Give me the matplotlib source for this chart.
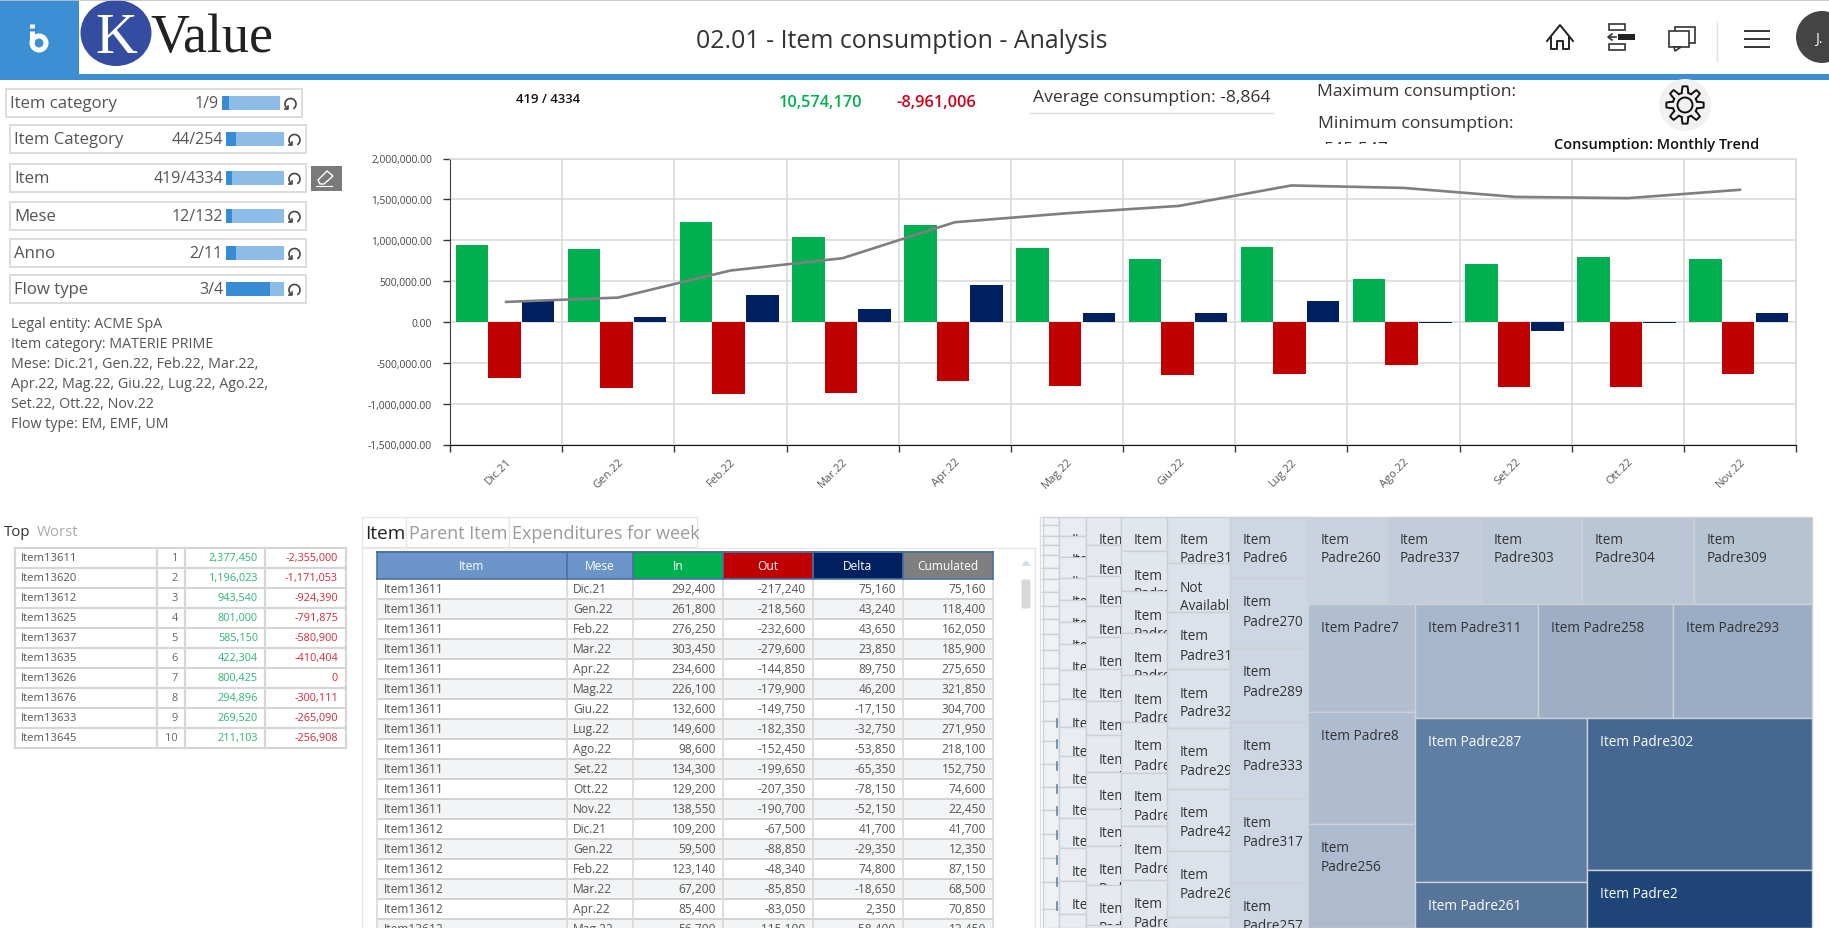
import numpy as np
import matplotlib

matplotlib.use("Agg")
import matplotlib.pyplot as plt
from matplotlib.patches import Arc, Circle, Ellipse, FancyBboxPatch, Polygon, Rectangle
from matplotlib.transforms import ScaledTranslation

W, H = 1829, 929
FONT = "Open Sans"
BLUE = "#3d8fd3"

# chart
MONTHS = ["Dic.21", "Gen.22", "Feb.22", "Mar.22", "Apr.22", "Mag.22", "Giu.22", "Lug.22", "Ago.22", "Set.22", "Ott.22", "Nov.22"]
IN_VALUES = [940000, 890000, 1229000, 1045000, 1184000, 906000, 767000, 918000, 522000, 706000, 796000, 767000]
OUT_VALUES = [-682000, -804000, -878000, -865000, -727000, -788000, -653000, -641000, -531000, -792000, -792000, -641000]
DELTA_VALUES = [257000, 65000, 327000, 159000, 449000, 114000, 110000, 261000, -8000, -106000, -8000, 110000]
CUMULATED = [245000, 298000, 629000, 780000, 1220000, 1330000, 1420000, 1670000, 1640000, 1530000, 1515000, 1617000]
Y_TICKS = [-1500000, -1000000, -500000, 0, 500000, 1000000, 1500000, 2000000]

# filters
FILTER_NAMES = ["Item category", "Item Category", "Item", "Mese", "Anno", "Flow type"]
FILTER_COUNTS = ["1/9", "44/254", "419/4334", "12/132", "2/11", "3/4"]
FILTER_SHARE = [0.12, 0.18, 0.10, 0.10, 0.18, 0.75]
FILTER_TOPS = [90, 126, 165, 203, 240, 276]
FILTER_TEXT = [
    "Legal entity: ACME SpA",
    "Item category: MATERIE PRIME",
    "Mese: Dic.21, Gen.22, Feb.22, Mar.22,",
    "Apr.22, Mag.22, Giu.22, Lug.22, Ago.22,",
    "Set.22, Ott.22, Nov.22",
    "Flow type: EM, EMF, UM",
]

# top table
TOP_ITEMS = ["Item13611", "Item13620", "Item13612", "Item13625", "Item13637", "Item13635", "Item13626", "Item13676", "Item13633", "Item13645"]
TOP_IN = ["2,377,450", "1,196,023", "943,540", "801,000", "585,150", "422,304", "800,425", "294,896", "269,520", "211,103"]
TOP_OUT = ["-2,355,000", "-1,171,053", "-924,390", "-791,875", "-580,900", "-410,404", "0", "-300,111", "-265,090", "-256,908"]

# detail table
TABLE_HEAD = ["Item", "Mese", "In", "Out", "Delta", "Cumulated"]
TABLE_HEAD_COLORS = ["#6b95c9", "#6b95c9", "#00b050", "#c00000", "#002060", "#7f7f7f"]
TABLE_COLS = [377, 567, 633, 723, 813, 903, 993]
ROW_ITEMS = ["Item13611"] * 12 + ["Item13612"] * 6
ROW_MESE = MONTHS + MONTHS[:6]
ROW_IN = ["292,400", "261,800", "276,250", "303,450", "234,600", "226,100", "132,600", "149,600", "98,600", "134,300", "129,200", "138,550", "109,200", "59,500", "123,140", "67,200", "85,400", "56,700"]
ROW_OUT = ["-217,240", "-218,560", "-232,600", "-279,600", "-144,850", "-179,900", "-149,750", "-182,350", "-152,450", "-199,650", "-207,350", "-190,700", "-67,500", "-88,850", "-48,340", "-85,850", "-83,050", "-115,100"]
ROW_DELTA = ["75,160", "43,240", "43,650", "23,850", "89,750", "46,200", "-17,150", "-32,750", "-53,850", "-65,350", "-78,150", "-52,150", "41,700", "-29,350", "74,800", "-18,650", "2,350", "-58,400"]
ROW_CUM = ["75,160", "118,400", "162,050", "185,900", "275,650", "321,850", "304,700", "271,950", "218,100", "152,750", "74,600", "22,450", "41,700", "12,350", "87,150", "68,500", "70,850", "12,450"]

# treemap columns on the left, from small to large
TREE_COLUMNS = [
    (1043, 1059, "#eef1f5", [518, 526, 537, 546, 556, 569, 580, 593, 607, 620, 635, 651, 669, 685, 702, 722, 742, 765, 788, 811, 835, 859, 883, 910], []),
    (1059, 1086, "#e9edf2", [518, 537, 558, 579, 601, 623, 645, 671, 700, 728, 757, 788, 819, 849, 882, 915], ["Item"] * 16),
    (1086, 1121, "#e6eaf0", [518, 546, 577, 607, 638, 670, 702, 736, 773, 810, 847, 886, 926], ["Item\nPadre"] * 13),
    (1121, 1167, "#e2e7ee", [518, 552, 592, 634, 676, 723, 774, 827, 881], ["Item\nPadre"] * 9),
    (1167, 1230, "#dce2ea", [518, 564, 613, 670, 729, 790, 852, 918],
     ["Item\nPadre31", "Not\nAvailable", "Item\nPadre31", "Item\nPadre32", "Item\nPadre29", "Item\nPadre42", "Item\nPadre26", "Item\nPadre"]),
    (1230, 1308, "#cdd6e2", [518, 579, 649, 723, 800, 884],
     ["Item\nPadre6", "Item\nPadre270", "Item\nPadre289", "Item\nPadre333", "Item\nPadre317", "Item\nPadre257"]),
]
TREE_SLIVERS = [720, 741, 763, 786, 808, 832, 857, 879, 903]
# x0, y0, x1, y1, colour, label, text colour
TREE_CELLS = [
    (1308, 518, 1387, 605, "#c9d2de", "Item\nPadre260", "#333333"),
    (1387, 518, 1481, 605, "#c2ccda", "Item\nPadre337", "#333333"),
    (1481, 518, 1582, 605, "#bfcad8", "Item\nPadre303", "#333333"),
    (1582, 518, 1694, 605, "#bac6d6", "Item\nPadre304", "#333333"),
    (1694, 518, 1812, 605, "#b6c3d3", "Item\nPadre309", "#333333"),
    (1308, 605, 1415, 713, "#b1bed0", "Item Padre7", "#333333"),
    (1308, 713, 1415, 825, "#afbccf", "Item Padre8", "#333333"),
    (1308, 825, 1415, 929, "#aebbce", "Item\nPadre256", "#333333"),
    (1415, 605, 1538, 719, "#a6b6cb", "Item Padre311", "#333333"),
    (1538, 605, 1673, 719, "#9eafc5", "Item Padre258", "#333333"),
    (1673, 605, 1812, 719, "#9badc4", "Item Padre293", "#333333"),
    (1415, 719, 1587, 883, "#5f7ea3", "Item Padre287", "white"),
    (1415, 883, 1587, 929, "#567599", "Item Padre261", "white"),
    (1587, 719, 1812, 871, "#456792", "Item Padre302", "white"),
    (1587, 871, 1812, 929, "#1f4578", "Item Padre2", "white"),
]


def fs(px):
    return px * 0.72


def label(ax, x, y, s, size=12, color="#444444", ha="left", **kwargs):
    kwargs.setdefault("family", FONT)
    return ax.text(x, y, s, fontsize=fs(size), color=color, ha=ha, va="center", **kwargs)


def box(ax, x0, y0, x1, y1, face="white", edge="none", lw=1.0, zorder=1):
    patch = Rectangle((x0, y0), x1 - x0, y1 - y0, facecolor=face, edgecolor=edge, linewidth=lw, zorder=zorder)
    ax.add_patch(patch)
    return patch


def draw_header(ax):
    ax.plot([0, W], [0.5, 0.5], color="#c4c4c4", lw=1.2)
    box(ax, 0, 75, W, 81, face=BLUE)
    box(ax, 0, 1, 79, 81, face=BLUE)
    # small b logo
    ax.add_patch(Circle((39, 44), 7, facecolor="none", edgecolor="white", lw=3.6))
    ax.plot([32, 32], [32, 44], color="white", lw=3.6, solid_capstyle="butt")
    ax.plot([32, 32], [25, 29], color="white", lw=3.6, solid_capstyle="butt")
    ax.add_patch(Ellipse((116, 34), 71, 66, facecolor="#354da0", edgecolor="none"))
    ax.text(116, 39, "K", family="Liberation Serif", fontsize=fs(58), color="white", ha="center", va="center")
    ax.text(150, 39, "Value", family="Liberation Serif", fontsize=fs(54), color="#222222", ha="left", va="center")
    label(ax, 902, 41, "02.01 - Item consumption - Analysis", size=24.9, color="#333333", ha="center")

    # home
    ax.plot([1547, 1560, 1573], [42, 26, 42], color="#222222", lw=1.4)
    ax.plot([1551, 1551, 1557, 1557, 1563, 1563, 1569, 1569], [38, 50, 50, 42, 42, 50, 50, 38], color="#222222", lw=1.4)
    # tree
    box(ax, 1609, 25, 1625, 31, edge="#333333", lw=1.2)
    box(ax, 1609, 45, 1625, 51, edge="#333333", lw=1.2)
    box(ax, 1618, 35, 1635, 41, face="#222222")
    ax.plot([1609, 1616], [38, 38], color="#333333", lw=1.2)
    ax.plot([1612, 1608, 1612], [35, 38, 41], color="#333333", lw=1.2)
    # chat
    box(ax, 1675, 28, 1695, 44, face="none", edge="#333333", lw=1.2)
    box(ax, 1669, 32, 1689, 48, edge="#333333", lw=1.2)
    ax.add_patch(Polygon([[1674, 48], [1675, 52], [1681, 48]], facecolor="white", edgecolor="#333333", lw=1.2, zorder=2))
    ax.plot([1717, 1717], [23, 62], color="#e0e0e0", lw=1)
    for y in [32, 40, 48]:
        ax.plot([1745, 1769], [y, y], color="#333333", lw=1.4)
    ax.add_patch(Circle((1822, 38), 26, facecolor="#444444", edgecolor="none"))
    label(ax, 1819, 39, "J.", size=14, color="white", ha="center")


def draw_filters(ax):
    for i, (name, count, share, top) in enumerate(zip(FILTER_NAMES, FILTER_COUNTS, FILTER_SHARE, FILTER_TOPS)):
        off = 0 if i == 0 else 4
        box(ax, 6 + off, top, 302 + off, top + 28, edge="#dcdcdc", lw=1.4)
        label(ax, 10 + off, top + 14, name, size=16.8, color="#555555")
        label(ax, 219 + off, top + 14, count, size=16, color="#555555", ha="right")
        x0, x1 = 222 + off, 280 + off
        box(ax, x0, top + 7, x1, top + 21, face="#8dbde6")
        box(ax, x0, top + 7, x0 + (x1 - x0) * share, top + 21, face="#378cd4")
        # reset icon
        cx, cy = x1 + 10.5, top + 15
        ax.add_patch(Arc((cx, cy), 11, 11, theta1=125, theta2=60, color="#444444", lw=1.2))
        ax.plot([cx - 6, cx - 3, cx - 3], [cy + 5, cy + 5, cy + 2], color="#444444", lw=1.2)
    box(ax, 311, 167, 342, 192, face="#7a7a7a")
    ax.add_patch(Polygon([[318, 181], [327, 172], [333, 177], [324, 185], [320, 185]], facecolor="none", edgecolor="white", lw=1))
    ax.plot([316, 332], [187, 187], color="white", lw=0.8)
    for i, line in enumerate(FILTER_TEXT):
        label(ax, 11, 324 + 20 * i, line, size=14.3, color="#555555")


def draw_stats(ax):
    label(ax, 548, 99, "419 / 4334", size=13, color="#111111", ha="center", fontweight="semibold")
    label(ax, 820, 103, "10,574,170", size=16.4, color="#00b050", ha="center", fontweight="semibold")
    label(ax, 936, 103, "-8,961,006", size=16.4, color="#d0021b", ha="center", fontweight="semibold")
    label(ax, 1033, 98, "Average consumption: -8,864", size=17.5, color="#333333")
    ax.plot([1030, 1273], [114, 114], color="#dddddd", lw=1)
    label(ax, 1317, 92, "Maximum consumption:", size=17.5, color="#333333")
    label(ax, 1318, 124, "Minimum consumption:", size=17.5, color="#333333")
    t = label(ax, 1324, 150, "545,547", size=17.5, color="#333333", clip_on=True)
    t.set_clip_path(box(ax, 1300, 125, 1500, 145, face="none"))
    ax.add_patch(Ellipse((1685, 106), 52, 52, facecolor="#f1f1f1", edgecolor="none"))
    # gear icon
    ang = np.linspace(0, 2 * np.pi, 97)
    rad = 15.5 + 3.2 * np.clip(3 * np.cos(8 * ang), -1, 1)
    ax.add_patch(Polygon(np.c_[1685 + rad * np.cos(ang), 106 + rad * np.sin(ang)], facecolor="none", edgecolor="#111111", lw=1.4, closed=True))
    ax.add_patch(Circle((1685, 106), 7.5, facecolor="none", edgecolor="#111111", lw=1.4))
    label(ax, 1657, 145, "Consumption: Monthly Trend", size=14.5, color="#111111", ha="center", fontweight="semibold")


def draw_chart(fig):
    ax = fig.add_axes([450 / W, 1 - 445.5 / H, 1346 / W, 286 / H])
    x = np.arange(len(MONTHS))
    width = 0.29
    ax.bar(x - 0.305, IN_VALUES, width, color="#00b050", zorder=2)
    ax.bar(x - 0.015, OUT_VALUES, width, color="#c00000", zorder=2)
    ax.bar(x + 0.285, DELTA_VALUES, width, color="#002060", zorder=2)
    ax.plot(x, CUMULATED, color="#7f7f7f", lw=1.9, zorder=3)
    ax.set_xlim(-0.5, len(MONTHS) - 0.5)
    ax.set_ylim(-1500000, 2000000)
    ax.set_yticks(Y_TICKS)
    ax.set_yticklabels([f"{v:,.2f}" for v in Y_TICKS], family=FONT, fontsize=fs(10.3), color="#444444")
    ax.set_xticks(np.arange(len(MONTHS) + 1) - 0.5)
    ax.set_xticklabels([])
    ax.set_xticks(x, minor=True)
    ax.set_xticklabels(MONTHS, minor=True, rotation=45, ha="right", va="top", rotation_mode="anchor",
                       family=FONT, fontsize=fs(11.2), color="#595959")
    shift = ScaledTranslation(-3 / 100, 0, fig.dpi_scale_trans)
    for tick_label in ax.get_xticklabels(minor=True):
        tick_label.set_transform(tick_label.get_transform() + shift)
    ax.tick_params(axis="x", which="minor", length=0, pad=8)
    ax.tick_params(axis="x", which="major", length=5, width=1, color="#333333")
    ax.tick_params(axis="y", length=5, width=1, color="#333333", pad=8)
    ax.grid(True, which="major", color="#d9d9d9", lw=1.1, zorder=0)
    ax.set_axisbelow(True)
    for side in ["top", "right"]:
        ax.spines[side].set_color("#d9d9d9")
        ax.spines[side].set_linewidth(1.1)
    ax.spines["left"].set_color("#404040")
    ax.spines["bottom"].set_color("#111111")
    return ax


def draw_top_table(ax):
    label(ax, 4, 532, "Top", size=15, color="#333333")
    label(ax, 37, 532, "Worst", size=15, color="#aaaaaa")
    cols = [15, 157, 185, 265, 346]
    for i in range(11):
        ax.plot([15, 346], [549 + 20 * i] * 2, color="#d6d6d6", lw=1.6)
    for c in cols:
        ax.plot([c, c], [549, 749], color="#d6d6d6", lw=1.6)
    for i in range(10):
        y = 558.5 + 20 * i
        label(ax, 21, y, TOP_ITEMS[i], size=11.2, color="#555555")
        label(ax, 178, y, str(i + 1), size=11, color="#666666", ha="right")
        label(ax, 258, y, TOP_IN[i], size=10.9, color="#2bb673", ha="right")
        label(ax, 338, y, TOP_OUT[i], size=10.9, color="#d62839", ha="right")


def draw_detail_table(ax):
    box(ax, 362, 518, 406, 548, edge="#e6e6e6")
    box(ax, 406, 518, 509, 548, edge="#e6e6e6")
    box(ax, 509, 518, 697, 548, edge="#e6e6e6")
    label(ax, 365, 534, "Item", size=19, color="#222222")
    label(ax, 409, 534, "Parent Item", size=18, color="#9a9a9a")
    label(ax, 512, 534, "Expenditures for week", size=18, color="#9a9a9a")
    ax.plot([362, 362, 1035, 1035], [940, 549, 549, 940], color="#e6e6e6", lw=1)
    cols = TABLE_COLS
    for j, name in enumerate(TABLE_HEAD):
        box(ax, cols[j], 553, cols[j + 1], 580, face=TABLE_HEAD_COLORS[j], zorder=2)
        label(ax, (cols[j] + cols[j + 1]) / 2, 566, name, size=12, color="white", ha="center", zorder=3)
    ax.plot([377, 993], [553, 553], color="#4a6fa5", lw=1.4, zorder=3)
    ax.plot([377, 993], [580, 580], color="#4a6fa5", lw=1.2, zorder=3)
    for c in cols:
        ax.plot([c, c], [553, 580], color="#4a6fa5", lw=1.2, zorder=3)
    for i in range(len(ROW_ITEMS)):
        top = 580 + 20 * i
        if i % 2:
            box(ax, 377, top, 993, top + 20, face="#f3f4f6")
        ax.plot([377, 993], [top + 20] * 2, color="#d2d2d2", lw=1.4, zorder=2)
        y = top + 9.5
        label(ax, 384, y, ROW_ITEMS[i], color="#555555")
        label(ax, 573, y, ROW_MESE[i], color="#555555")
        for j, vals in enumerate([ROW_IN, ROW_OUT, ROW_DELTA, ROW_CUM]):
            label(ax, cols[j + 3] - 7, y, vals[i], color="#555555", ha="right")
    for c in cols:
        ax.plot([c, c], [580, 929], color="#d8d8d8", lw=1.2, zorder=2)
    ax.add_patch(Polygon([[1021, 567], [1026, 561], [1031, 567]], facecolor="#cfe0ee", edgecolor="none"))
    ax.add_patch(FancyBboxPatch((1023, 582), 6, 26, boxstyle="round,pad=1.5", facecolor="#d8d8d8", edgecolor="none"))


def cell(ax, x0, y0, x1, y1, face, text, color, xpad=13, ypad=23):
    rect = box(ax, x0, y0, x1, y1, face=face, edge="#cdd0d4", lw=1.0)
    if not text:
        return
    for k, line in enumerate(text.split("\n")):
        t = label(ax, x0 + xpad, y0 + ypad + 19 * k, line, size=13.6, color=color, zorder=2, clip_on=True)
        t.set_clip_path(rect)


def draw_treemap(ax):
    ax.plot([1040, 1040], [518, 929], color="#dddddd", lw=1)
    for x0, x1, face, tops, texts in TREE_COLUMNS:
        edges = tops + [929]
        for i in range(len(tops)):
            text = texts[i] if texts else ""
            pad = 22 if i == 0 else 24
            cell(ax, x0, edges[i], x1, edges[i + 1], face, text, "#333333", ypad=pad)
            ax.plot([1040, x0], [edges[i]] * 2, color="#d5d8dc", lw=0.8) if not texts else None
    for y in TREE_SLIVERS:
        ax.plot([1057, 1057], [y, y + 8], color="#5d87a8", lw=1.2, zorder=3)
    for x0, y0, x1, y1, face, text, color in TREE_CELLS:
        pad = 22 if y0 == 518 else 24
        cell(ax, x0, y0, x1, y1, face, text, color, ypad=pad)


fig = plt.figure(figsize=(W / 100, H / 100), dpi=100)
ui = fig.add_axes([0, 0, 1, 1])
ui.set_xlim(0, W)
ui.set_ylim(H, 0)
ui.axis("off")

draw_header(ui)
draw_filters(ui)
draw_stats(ui)
draw_chart(fig)
draw_top_table(ui)
draw_detail_table(ui)
draw_treemap(ui)

fig.savefig("out.png", dpi=100, facecolor="white")
